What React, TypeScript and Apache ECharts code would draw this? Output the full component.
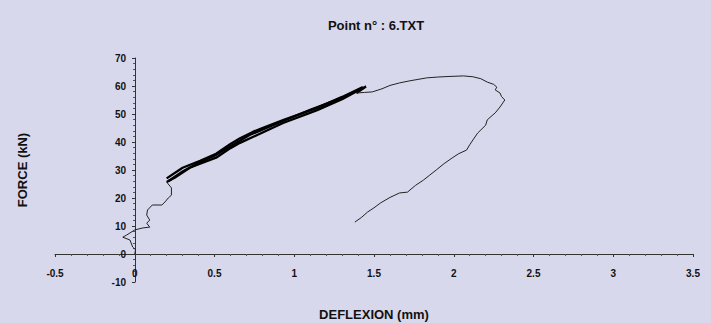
import React, { useEffect, useRef } from "react";
import * as echarts from "echarts";

const titleText = "Point n° : 6.TXT";
const xName = "DEFLEXION (mm)";
const yName = "FORCE (kN)";

// initial thin loading path
const initialPath: number[][] = [
  [0, 0], [0.005, 1.5], [-0.013, 2.5], [-0.03, 5], [-0.075, 6], [-0.05, 6.8],
  [0, 8.6], [0.05, 9.3], [0.094, 9.6], [0.075, 11], [0.094, 12.1], [0.075, 13.9],
  [0.08, 15.7], [0.11, 17.5], [0.17, 17.5], [0.19, 18.6], [0.21, 20], [0.23, 21],
  [0.23, 23.6], [0.2, 25.7],
];

// cyclic loading (thick band)
const cycleUp1: number[][] = [
  [0.2, 25.7], [0.25, 27.2], [0.345, 30.8], [0.41, 32.3], [0.51, 34.4], [0.6, 37.8],
  [0.66, 39.7], [0.74, 41.8], [0.93, 46.8], [1.14, 51.3], [1.3, 55.3], [1.43, 59.3],
];
const cycleDown: number[][] = [
  [1.43, 59.6], [1.3, 56.1], [1.14, 52.1], [0.93, 47.8], [0.8, 45], [0.74, 43.6],
  [0.66, 41.3], [0.6, 39.3], [0.51, 35.8], [0.41, 33.3], [0.3, 30.8], [0.2, 27],
];
const cycleUp2: number[][] = [
  [0.21, 26], [0.3, 29.5], [0.4, 32.6], [0.5, 35.1], [0.63, 39.5], [0.72, 42.5],
  [0.9, 46.8], [1.1, 51.5], [1.3, 55.8], [1.45, 59.8], [1.39, 57.5],
];

// final thin path (post-peak)
const finalPath: number[][] = [
  [1.39, 57.5], [1.44, 57.7], [1.49, 57.9], [1.55, 59], [1.6, 60.2], [1.66, 61.1],
  [1.72, 61.8], [1.77, 62.3], [1.83, 62.9], [1.9, 63.2], [1.97, 63.4], [2.06, 63.6],
  [2.12, 63.3], [2.17, 62.6], [2.21, 61.4], [2.25, 60.6], [2.27, 59.6], [2.26, 58.6],
  [2.29, 57.5], [2.3, 56.2], [2.32, 55], [2.29, 52.5], [2.26, 50.4], [2.24, 49.4],
  [2.21, 47.9], [2.2, 46], [2.15, 43.2], [2.12, 40.7], [2.1, 39], [2.08, 37.1],
  [2.03, 35.8], [1.99, 34.3], [1.94, 32.3], [1.89, 30], [1.85, 28.2], [1.81, 26.4],
  [1.76, 24.5], [1.71, 22.1], [1.66, 21.8], [1.6, 20.2], [1.54, 18.2], [1.5, 16.5],
  [1.46, 15], [1.42, 13], [1.38, 11.4],
];

const FONT = "'Liberation Sans', Arial, sans-serif";

export default function App() {
  const ref = useRef<HTMLDivElement>(null);
  useEffect(() => {
    if (!ref.current) return;
    const chart = echarts.init(ref.current, undefined, { renderer: "svg" });
    const lineSeries = (data: number[][], width: number, color: string) => ({
      type: "line",
      data,
      showSymbol: false,
      symbol: "none",
      lineStyle: { width, color },
      silent: true,
    });
    chart.setOption({
      animation: false,
      backgroundColor: "#d8d8ec",
      graphic: [
        {
          type: "text",
          x: 376,
          y: 25,
          style: {
            text: titleText,
            textAlign: "center",
            textVerticalAlign: "middle",
            font: `bold 13px ${FONT}`,
            fill: "#111",
          },
        },
      ],
      grid: {
        left: 55,
        right: 18,
        top: 58,
        bottom: 41,
        containLabel: false,
        outerBoundsMode: "none",
      },
      xAxis: {
        type: "value",
        min: -0.5,
        max: 3.5,
        interval: 0.5,
        offset: -28,
        name: xName,
        nameLocation: "middle",
        nameGap: 54,
        nameTextStyle: { fontFamily: FONT, fontWeight: "bold", fontSize: 13, color: "#111" },
        splitLine: { show: false },
        axisLine: { onZero: false, lineStyle: { color: "#333", width: 1 } },
        axisTick: { show: true, length: 3, inside: false, lineStyle: { color: "#333" } },
        minorTick: { show: true, splitNumber: 5, length: 2, lineStyle: { color: "#555" } },
        axisLabel: {
          margin: 14,
          fontFamily: FONT,
          fontWeight: "bold",
          fontSize: 10,
          color: "#111",
          showMinLabel: true,
          showMaxLabel: true,
        },
      },
      yAxis: {
        type: "value",
        min: -10,
        max: 70,
        interval: 10,
        offset: -80,
        name: yName,
        nameLocation: "middle",
        nameGap: 106,
        nameTextStyle: { fontFamily: FONT, fontWeight: "bold", fontSize: 13, color: "#111" },
        splitLine: { show: false },
        axisLine: { onZero: false, lineStyle: { color: "#333", width: 1 } },
        axisTick: { show: true, length: 3, lineStyle: { color: "#333" } },
        minorTick: { show: true, splitNumber: 5, length: 2, lineStyle: { color: "#555" } },
        axisLabel: {
          margin: 9,
          fontFamily: FONT,
          fontWeight: "bold",
          fontSize: 10,
          color: "#111",
        },
      },
      series: [
        lineSeries(initialPath, 1, "#222"),
        lineSeries(cycleUp1, 2.3, "#000"),
        lineSeries(cycleDown, 2.3, "#000"),
        lineSeries(cycleUp2, 2.3, "#000"),
        lineSeries(finalPath, 1, "#222"),
      ],
    });
    return () => chart.dispose();
  }, []);
  return (
    <div
      ref={ref}
      style={{ position: "fixed", left: 0, top: 0, width: 711, height: 323 }}
    />
  );
}
